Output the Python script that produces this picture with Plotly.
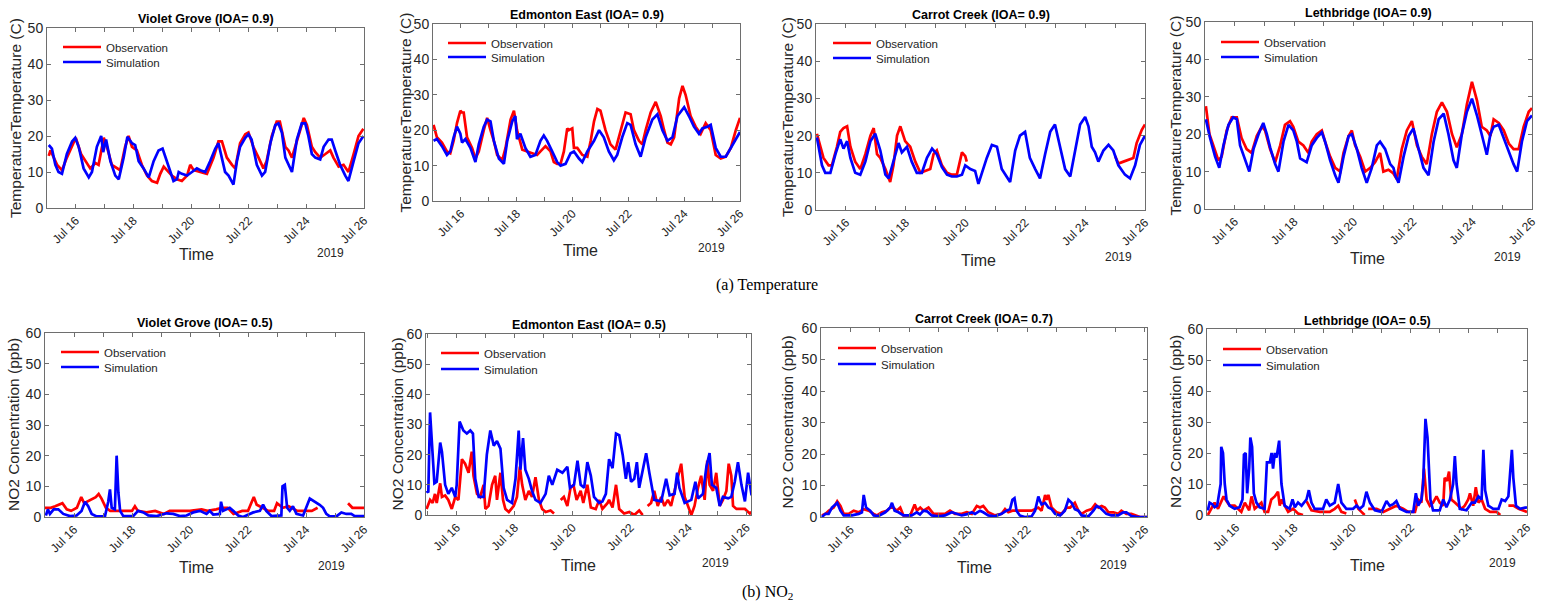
import pandas as pd
import plotly.graph_objects as go

W, H = 1549, 607
BASE = pd.Timestamp("2019-07-15")

# ---------------- DATA (days since 2019-07-15 00:00, values) ----------------
# Temperature (C)
VG_T_OBS_D = [0.06,0.12,0.35,0.52,0.69,0.87,1.0,1.18,1.35,1.5,1.68,1.79,1.97,2.08,2.25,2.43,2.54,2.71,2.83,2.95,3.12,3.29,3.47,3.64,3.82,3.93,4.05,4.16,4.33,4.51,4.68,4.86,4.97,5.09,5.32,5.55,5.78,5.95,6.07,6.24,6.42,6.53,6.7,6.88,6.99,7.16,7.34,7.51,7.62,7.8,7.97,8.08,8.27,8.38,8.5,8.61,8.79,8.91,9.02,9.19,9.31,9.48,9.66,9.83,9.94,10.12,10.29,10.46,10.64,10.81,10.98]
VG_T_OBS = [14.5,16,12,10.5,14,17,19.5,15,13,11,12.5,12,19.5,17,12,11,10.5,17,20,17,16,12,9,7.5,7,9.5,11.5,10.5,9,8,7.5,9,12,10.5,10,9.5,14,18.5,18.5,14,12,11,18,20.5,21,17,14,11,13,20,24,24,17,16,14,17,22,25,23,17,15.5,14,15,16,14,11.5,12,10,15,20,22]
VG_T_SIM_D = [0.06,0.17,0.29,0.4,0.52,0.69,0.87,0.98,1.1,1.27,1.45,1.56,1.73,1.88,1.95,2.05,2.2,2.37,2.49,2.66,2.79,2.95,3.06,3.18,3.35,3.53,3.7,3.87,4.01,4.16,4.28,4.39,4.51,4.57,4.68,4.86,5.03,5.2,5.32,5.49,5.66,5.84,5.95,6.07,6.18,6.3,6.47,6.59,6.7,6.88,6.99,7.1,7.28,7.46,7.57,7.75,7.92,8.03,8.15,8.27,8.38,8.5,8.67,8.84,8.96,9.07,9.19,9.31,9.48,9.6,9.77,9.88,10.0,10.17,10.35,10.46,10.64,10.81,10.98]
VG_T_SIM = [17.5,16.5,12,10,9.5,15,18.5,19.5,17,11,8.5,10,17,20,15.5,19,13,9,8,14,19.8,18,17.5,13,11,8.5,13,16,16.5,13,10,7.5,8,10,9.5,9,10,11,10.5,10,13,16.5,18,14,10,9,6.5,13,17,19.5,20.5,19,12,9,10,18,23,23.5,21,14,12,10,19,23.5,23.5,20,15,14,13.5,17,19,19,16,12,9,7.5,13,18,20]

EE_T_OBS_D = [0.02,0.14,0.32,0.5,0.62,0.74,0.86,0.98,1.04,1.1,1.22,1.4,1.52,1.64,1.82,1.94,2.06,2.18,2.3,2.48,2.6,2.78,2.9,3.01,3.2,3.37,3.55,3.73,3.85,4.03,4.21,4.33,4.45,4.57,4.69,4.81,4.87,4.99,5.05,5.17,5.35,5.53,5.65,5.77,5.89,6.0,6.18,6.36,6.54,6.72,6.9,7.08,7.2,7.38,7.5,7.62,7.8,7.98,8.16,8.28,8.4,8.52,8.64,8.82,8.94,9.05,9.23,9.41,9.59,9.77,9.95,10.13,10.31,10.49,10.67,10.85,11.0]
EE_T_OBS = [21.5,18,16.5,14,13.5,17,22,25.5,25,25,18,15,12,14,20,23.5,20,17,13,11.5,15,23,25.5,20,14.5,14,13.5,13,14,15.5,14,11,10.5,10.5,14,20.5,20,20.5,15,15,13,12.5,17,22.5,26,25.5,20,16,14.5,20,25,24.5,20,17,16,20,25,28,24,20,16.5,16,18,29,32.5,30,24,21,19,22,20,13,12,12.5,15,20,23.5]
EE_T_SIM_D = [0.02,0.14,0.32,0.5,0.62,0.74,0.86,0.98,1.04,1.16,1.34,1.52,1.64,1.82,1.94,2.06,2.18,2.36,2.54,2.66,2.84,2.95,3.01,3.13,3.31,3.49,3.67,3.85,3.97,4.09,4.27,4.45,4.57,4.75,4.93,5.05,5.23,5.35,5.53,5.77,5.95,6.12,6.3,6.48,6.6,6.78,6.96,7.08,7.26,7.44,7.62,7.86,8.04,8.22,8.4,8.58,8.76,9.0,9.17,9.35,9.53,9.65,9.83,9.95,10.13,10.31,10.49,10.67,10.85,11.0]
EE_T_SIM = [17,17.5,15.5,13,14,18,21,19,16.5,17.5,15,11,16,21,23,22.5,17,12,10.5,17,22.5,24,17.5,19,15,12.5,13,17,18.5,17,14,11,10,10.5,13.5,14,12,11,14,17,20,18,14,11.5,13,18,22,21.5,16,12.5,18,23,24.5,20,17,18,24,26.5,24,21,19,20.5,21,21.5,15,12.5,12.5,15,17.5,19.5]

CC_T_OBS_D = [0.03,0.14,0.25,0.42,0.53,0.7,0.81,0.92,1.04,1.15,1.31,1.48,1.65,1.82,1.93,2.04,2.15,2.32,2.48,2.59,2.71,2.82,2.98,3.15,3.32,3.49,3.65,3.82,3.93,4.04,4.21,4.38,4.54,4.71,4.88,4.99,5.04,5.5,10.0,10.11,10.28,10.45,10.61,10.72,10.89,11.0]
CC_T_OBS = [20.5,17,14,12,12,17,21,22,22.5,17,13,11,15,20,22,15,14,11,7.5,12,20,22.5,18.5,17,13,10,10.5,11,15,16,12,10,9.5,9.5,15.5,14.5,13,None,14.5,12.5,13,13.5,14,18,21.5,23]
CC_T_SIM_D = [0.03,0.2,0.31,0.48,0.65,0.81,0.92,1.04,1.15,1.31,1.48,1.65,1.82,1.98,2.15,2.32,2.43,2.59,2.76,2.87,3.04,3.2,3.37,3.54,3.71,3.88,4.04,4.21,4.38,4.54,4.71,4.88,4.99,5.16,5.32,5.43,5.54,5.71,5.88,6.05,6.21,6.38,6.49,6.66,6.82,6.99,7.15,7.33,7.49,7.66,7.83,7.99,8.16,8.33,8.5,8.66,8.83,9.0,9.11,9.22,9.33,9.44,9.61,9.78,9.94,10.11,10.33,10.5,10.67,10.83,11.0]
CC_T_SIM = [19.5,12,10,10,15,19,16.5,18.5,14,10,9.5,13,18.5,20.5,16,9.5,8.5,13,18,15.5,17,13,10,10,14,16.5,15,11.5,9.5,9,9,9.5,12,11,10.5,7,10,14,17.5,17,11,9,7.5,16,20,21,14,11,8.5,15,21,23,17,11,9,16,23,25,22.5,17,15.5,13,16,17.5,16,12,9.5,8.5,12,17.5,20]

LB_T_OBS_D = [0.03,0.15,0.28,0.45,0.56,0.73,0.9,1.07,1.23,1.4,1.57,1.74,1.91,2.02,2.19,2.36,2.53,2.69,2.86,2.97,3.14,3.31,3.48,3.59,3.76,3.93,4.04,4.21,4.38,4.55,4.66,4.83,4.94,5.05,5.22,5.39,5.56,5.72,5.89,6.0,6.17,6.34,6.45,6.62,6.79,6.96,7.13,7.29,7.46,7.63,7.8,7.97,8.14,8.31,8.47,8.64,8.81,8.98,9.15,9.31,9.48,9.6,9.71,9.88,10.05,10.22,10.38,10.55,10.72,10.89,11.0]
LB_T_OBS = [27.5,20,17,13,14,21,24.5,24.5,19,16,15,19.5,22,21,16,12.5,17,22.5,23.5,22,18,17,15,18,20,21,18,14,11,10,15,19.5,21,17,14,10,11,12.5,15,10,10.5,9.5,8,16,21,23.5,17,14,12,20,26,28.5,26,20,16.5,20,28,34,29,22,21,19.5,24,23,21,17.5,16,16,22,26,27]
LB_T_SIM_D = [0.03,0.17,0.34,0.48,0.62,0.79,0.95,1.07,1.18,1.35,1.49,1.63,1.8,1.96,2.08,2.19,2.36,2.47,2.64,2.81,2.97,3.09,3.2,3.42,3.59,3.76,3.93,4.04,4.21,4.38,4.49,4.66,4.83,4.94,5.11,5.27,5.44,5.61,5.78,5.89,6.06,6.23,6.34,6.4,6.51,6.68,6.85,7.01,7.18,7.35,7.52,7.69,7.86,8.03,8.19,8.36,8.47,8.64,8.81,8.98,9.15,9.31,9.48,9.6,9.71,9.88,10.05,10.22,10.38,10.5,10.66,10.83,11.0]
LB_T_SIM = [24,19,14,11,17,22.5,24.5,24,17,13,10,16,20,23,20,16.5,12,10,18,22.5,21,18,13.5,12.5,17,19,20.5,18,13,9,7,14,19.5,20,16,11,7,11,17,18,16,12,11,9,7,14,19.5,21.5,16,11,9,18,24,25.5,20,13,11,20,26,29.5,25,20,14.5,20,22,22.5,19,15,12,10,18,23.5,25]

# NO2 (ppb)
VG_N_OBS_D = [0.0,0.2,0.35,0.45,0.6,0.75,0.9,1.1,1.25,1.35,1.45,1.6,1.75,1.85,1.95,2.1,2.25,2.5,2.7,3.0,3.1,3.2,3.5,3.8,4.1,4.3,4.6,5.0,5.4,5.6,5.9,6.1,6.3,6.5,6.8,7.0,7.2,7.3,7.5,7.7,7.9,8.0,8.2,8.4,8.7,9.0,9.2,9.4,9.45,10.4,10.45,10.6,10.8,11.0]
VG_N_OBS = [3,3,3.5,4,4.5,2.5,2,3,6.5,4.5,5,6,6.5,7.5,6,3,2,2,2,2,3.5,2,1.5,2,1,2,2,2,2.5,2,2.5,3,3,1,2,2,6.5,4,3,2,2,4.5,3,3.5,2,2,2,3,None,None,4.5,3,3,3]
VG_N_SIM_D = [0.03,0.1,0.17,0.3,0.46,0.63,0.86,1.09,1.26,1.38,1.49,1.61,1.78,2.07,2.18,2.24,2.3,2.41,2.47,2.53,2.59,2.7,3.04,3.21,3.39,3.56,3.85,4.19,4.42,4.65,4.88,5.11,5.34,5.57,5.68,5.8,6.03,6.07,6.14,6.37,6.49,6.66,6.83,7.18,7.41,7.52,7.63,7.81,8.15,8.19,8.27,8.35,8.44,8.55,8.67,8.9,9.13,9.3,9.47,9.59,9.7,9.82,10.05,10.22,10.39,10.56,10.68,11.0]
VG_N_SIM = [0.5,2.5,1,2.5,2.5,1,0.3,0.5,2,5,3.5,1,0.2,0.3,5,9,3,2.5,20,8,2,0.3,0.3,2,1.5,0.5,0.3,1.2,1,0.3,0.5,1.5,2,1,2,0.8,1,5,2,3,2,0.5,0,1.5,2,4,2,0.3,0.5,10,10.5,3,2,3.5,1,0.5,6,5,4,3,1,0.2,0.2,1.5,1,1,0.3,0.3]

EE_N_OBS_D = [-0.04,0.08,0.17,0.25,0.31,0.43,0.49,0.6,0.71,0.83,0.95,1.06,1.18,1.29,1.41,1.52,1.58,1.7,1.81,1.93,1.99,2.1,2.22,2.33,2.39,2.51,2.6,2.68,2.8,2.97,3.08,3.18,3.26,3.37,3.49,3.6,3.72,3.84,3.95,4.07,4.24,4.36,4.45,4.59,4.7,4.82,4.93,5.03,5.14,5.28,5.37,5.51,5.63,5.8,5.92,6.03,6.21,6.26,6.38,6.5,6.61,6.78,6.96,7.13,7.3,7.42,7.5,7.59,7.71,7.82,7.94,8.06,8.17,8.29,8.4,8.52,8.63,8.75,8.87,8.98,9.1,9.21,9.33,9.44,9.56,9.65,9.73,9.85,9.96,10.08,10.19,10.31,10.39,10.48,10.54,10.66,10.95,11.12,11.18]
EE_N_OBS = [2,5,4,7,4,10.5,6,6.5,5,2,6,5,18.5,17,14,21,13,7,6,10,2,3,10,13,5,14,5,2,1,3,6,16,10,5,8,6,12.5,5,2,1,1.5,0.5,None,5,6,3,9,10,5,8,4,10,2.5,2,5,2,4,5,2.5,10,2,0.5,1,0,1.5,0,None,3,4,8,3,6,3,5,3,8,12,17,6,3,0,3,9,13,5,18,10,8,14,3,5,8,17,13,3,2,2,0.5,1]
EE_N_SIM_D = [-0.04,0.02,0.08,0.14,0.23,0.31,0.43,0.49,0.6,0.71,0.83,0.95,1.0,1.1,1.23,1.35,1.47,1.56,1.64,1.76,1.93,2.04,2.16,2.28,2.39,2.51,2.62,2.74,2.91,3.03,3.14,3.2,3.29,3.37,3.49,3.6,3.72,3.89,4.07,4.18,4.3,4.47,4.65,4.82,4.91,5.05,5.17,5.28,5.4,5.51,5.63,5.74,5.92,6.03,6.15,6.26,6.38,6.5,6.61,6.73,6.84,6.92,7.02,7.13,7.22,7.3,7.42,7.54,7.65,7.82,8.06,8.23,8.35,8.52,8.61,8.69,8.87,9.1,9.24,9.33,9.5,9.62,9.73,9.81,9.96,10.08,10.19,10.37,10.48,10.6,10.71,10.83,10.95,11.06,11.18]
EE_N_SIM = [8,7.5,34,25,10.5,11,24,21,10,7,9,6,10,31,28,27,28,27,12,6,6,20,28,23,24.5,22,9,5,4,12,28,15,25.5,15,12,8,5,4,7,13,10,15,14,16,9,10,18,10,9,17.5,13,6,4,4.5,7,18.5,15.5,27,26.5,20,12,17.5,11,12,17.5,9,15,20.5,14,5,4.5,12,6.5,7,14,9,4,5,11,5.5,7,16,20.5,10,9,3,6,5.5,6,11,17.5,10,4.5,14,6.5]

CC_N_OBS_D = [0.03,0.15,0.26,0.43,0.55,0.66,0.77,0.94,1.11,1.28,1.45,1.62,1.79,1.9,2.07,2.24,2.35,2.46,2.57,2.69,2.8,3.03,3.18,3.26,3.37,3.48,3.65,3.82,4.05,4.21,4.38,4.55,4.78,4.95,5.12,5.29,5.4,5.51,5.68,5.91,6.13,6.25,6.36,6.5,6.71,6.93,7.15,7.38,7.49,7.61,7.66,7.72,7.83,8.0,8.17,8.34,8.46,8.62,8.74,8.85,9.02,9.19,9.31,9.42,9.53,9.64,9.76,9.93,10.09,10.2,10.37,10.54,10.71,10.83,11.07]
CC_N_OBS = [0.5,1,2,3,5,3.5,1,1,2,1.5,2.5,2,1,0.5,1.5,2,3,3,2,3,0.5,0.5,4,2,3,2,3,1,1,1,2,1,1,1.5,1,3.5,3,3.5,1.5,0.5,1,2.5,1.5,2,2,2,2,3,2,7,5.5,7,3,1.5,1,3,3,4.5,2,1,2,2.5,4,3,3.5,3,1.5,1.5,1,2,1,1,0.5,0,0]
CC_N_SIM_D = [0.03,0.15,0.26,0.37,0.49,0.55,0.66,0.77,1.05,1.28,1.39,1.45,1.53,1.67,1.79,1.95,2.18,2.35,2.41,2.5,2.63,2.8,3.08,3.25,3.36,3.48,3.6,3.76,3.99,4.21,4.44,4.61,4.78,5.0,5.12,5.23,5.4,5.51,5.68,5.91,6.13,6.3,6.42,6.5,6.57,6.64,6.75,6.92,7.15,7.27,7.38,7.44,7.49,7.61,7.72,7.83,7.95,8.12,8.28,8.4,8.51,8.62,8.74,8.85,9.08,9.25,9.36,9.47,9.58,9.69,9.86,10.09,10.26,10.37,10.54,10.77,11.07]
CC_N_SIM = [0,1,1,3,4,4.5,2,0.5,0.5,1,1.5,7,3,2,0.5,0.3,1.5,3,4.5,2,1.5,0.5,0.5,1.5,0.8,2,1.8,0.5,0.2,0.5,1.5,1,0.5,1,1.5,1,2,1.5,0.5,0.2,1,2,2.5,5.5,6,2,0.5,0,0.2,2,6.5,5,4,4.5,3,2.5,1,0.5,2,5.5,4.5,2.5,2,0.5,0.2,2,3.5,3,2,1,0.5,0.5,1.5,1.5,0.3,0,0]

LB_N_OBS_D = [0.03,0.15,0.26,0.38,0.49,0.57,0.67,0.78,0.95,1.07,1.18,1.3,1.45,1.53,1.64,1.76,1.87,1.98,2.1,2.21,2.33,2.44,2.5,2.56,2.67,2.79,2.96,3.13,3.3,3.36,3.42,3.59,3.88,4.22,4.39,4.51,4.62,4.79,4.95,5.08,5.2,5.31,5.42,5.48,5.54,5.83,6.06,6.28,6.51,6.74,6.92,7.15,7.26,7.37,7.46,7.55,7.66,7.77,7.89,8.0,8.12,8.17,8.25,8.32,8.4,8.52,8.63,8.75,8.86,8.98,9.04,9.15,9.24,9.33,9.44,9.56,9.73,9.96,10.08,10.2,10.36,10.53,10.71,10.88,11.0]
LB_N_OBS = [0,2,4,2,4.5,6,4.5,3,3,2,1,4,1.5,6,2,3,4,1,1,5,6,7.5,3,5,3,1,2,0.5,0,None,4.5,1.5,1,1,2,3,1,0.5,None,5,2,1,0,None,2,2,1,2,3,2,1,1,5,4,15,5,3,4,6,4,3,12,11,14,5,4,3,2,3,5,7,3,9,4,5,2,1,1,0,None,3,3,2,1.5,1]
LB_N_SIM_D = [0.03,0.09,0.18,0.26,0.35,0.44,0.47,0.49,0.55,0.61,0.67,0.78,0.95,1.12,1.22,1.27,1.33,1.38,1.45,1.49,1.55,1.61,1.7,1.81,1.98,2.06,2.16,2.22,2.27,2.33,2.39,2.48,2.56,2.67,2.84,2.94,3.02,3.13,3.25,3.42,3.5,3.59,3.7,3.99,4.1,4.22,4.39,4.51,4.62,4.79,5.02,5.14,5.25,5.37,5.48,5.6,5.77,6.0,6.17,6.28,6.4,6.51,6.63,6.86,7.09,7.18,7.26,7.37,7.43,7.51,7.58,7.68,7.77,8.0,8.12,8.23,8.35,8.46,8.52,8.58,8.69,8.92,9.1,9.21,9.33,9.44,9.5,9.56,9.67,9.84,10.02,10.13,10.25,10.36,10.42,10.48,10.53,10.62,10.76,11.0]
LB_N_SIM = [1.5,4,3.5,2.5,3,9,10,22,20,10,5,3,2,2.5,5,19.5,20,7,15,25,22,7,4,2.5,2,17,17,20,15,20,18.5,24,10,3,2,5,2.5,4,3,5,8,4,2,2,5,3,4,10,4,2,2,3,2,3,7.5,4,1.5,1,4.5,3,3.5,4.5,2,1,1,7,3,5,10,31,25,5,1.5,1.5,5,2.5,5,10,19,10,2,1.5,4,4,6,5,21,8,3,2,2,5,4.5,6,14,21,12,3,2,2.5]

TITLES_T = ["Violet Grove (IOA= 0.9)", "Edmonton East (IOA= 0.9)", "Carrot Creek (IOA= 0.9)", "Lethbridge (IOA= 0.9)"]
TITLES_N = ["Violet Grove (IOA= 0.5)", "Edmonton East (IOA= 0.5)", "Carrot Creek (IOA= 0.7)", "Lethbridge (IOA= 0.5)"]
YLABEL_T = "TemperatureTemperature (C)"
YLABEL_N = "NO2 Concentration (ppb)"
SERIES_NAMES = ["Observation", "Simulation"]
TICK_DAYS = [1, 3, 5, 7, 9, 11]   # Jul 16 ... Jul 26
CAPTIONS = ["(a) Temperature", "(b) NO<sub>2</sub>"]

SERIES = [
    (VG_T_OBS_D, VG_T_OBS, VG_T_SIM_D, VG_T_SIM),
    (EE_T_OBS_D, EE_T_OBS, EE_T_SIM_D, EE_T_SIM),
    (CC_T_OBS_D, CC_T_OBS, CC_T_SIM_D, CC_T_SIM),
    (LB_T_OBS_D, LB_T_OBS, LB_T_SIM_D, LB_T_SIM),
    (VG_N_OBS_D, VG_N_OBS, VG_N_SIM_D, VG_N_SIM),
    (EE_N_OBS_D, EE_N_OBS, EE_N_SIM_D, EE_N_SIM),
    (CC_N_OBS_D, CC_N_OBS, CC_N_SIM_D, CC_N_SIM),
    (LB_N_OBS_D, LB_N_OBS, LB_N_SIM_D, LB_N_SIM),
]

# ---------------- LAYOUT (pixel boxes: left, right, top, bottom) ----------------
BOXES = [(47, 364, 28, 208), (433, 740, 24, 201), (816, 1145, 24, 210), (1205, 1532, 22, 209),
         (45, 364, 333, 517), (426, 751, 334, 515), (821, 1147, 328, 517), (1207, 1527, 329, 515)]
XRANGES = [(0, 11), (0, 11), (0, 11), (0, 11), (0, 11), (-0.06, 11.16), (0, 11.07), (0, 11)]
YLAB_X = [15, 405, 787, 1175, 13, 397, 787, 1175]
TIME_POS = [(196, 255), (580, 250), (978, 260), (1367, 258), (196, 567), (578, 565), (974, 567), (1367, 565)]
YEAR_POS = [(330, 253), (711, 248), (1118, 257), (1507, 257), (331, 566), (715, 563), (1113, 565), (1502, 563)]
TITLE_Y = [19, 15, 15, 13, 323, 325, 319, 321]
# legend line start x, observation y, simulation y
LEG_POS = [(63, 47, 62), (448, 43, 57), (833, 43, 58), (1221, 42, 57),
           (61, 352, 367), (441, 353, 369), (838, 348, 364), (1223, 349, 365)]

FONT = "Liberation Sans, Arial, sans-serif"
TXT = "#262626"
AX = "#6e6e6e"


def px_x(x):
    return x / W


def px_y(y):
    return 1 - y / H


def day(d):
    return BASE + pd.to_timedelta(d, unit="D")


fig = go.Figure()
annotations = []
layout = {}

for i in range(8):
    n = i + 1
    xa = "x" if n == 1 else f"x{n}"
    ya = "y" if n == 1 else f"y{n}"
    lg_o = "legend" if i == 0 else f"legend{2 * i + 1}"
    lg_s = f"legend{2 * i + 2}"
    od, ov, sd, sv = SERIES[i]
    fig.add_trace(go.Scatter(x=[day(d) for d in od], y=ov, mode="lines", name=SERIES_NAMES[0],
                             line=dict(color="#ff0000", width=2.7), xaxis=xa, yaxis=ya, legend=lg_o))
    fig.add_trace(go.Scatter(x=[day(d) for d in sd], y=sv, mode="lines", name=SERIES_NAMES[1],
                             line=dict(color="#0000ff", width=2.7), xaxis=xa, yaxis=ya, legend=lg_s))

    l, r, t, b = BOXES[i]
    top_row = i < 4
    ymax = 50 if top_row else 60
    xr = XRANGES[i]
    axkey_x = "xaxis" if n == 1 else f"xaxis{n}"
    axkey_y = "yaxis" if n == 1 else f"yaxis{n}"
    layout[axkey_x] = dict(
        domain=[px_x(l), px_x(r)], anchor=ya, type="date", automargin=False,
        range=[day(xr[0]), day(xr[1])],
        tickvals=[day(d) for d in TICK_DAYS], tickformat="%b %d", tickangle=-45,
        ticks="inside", ticklen=4, tickcolor=AX, showline=True, linecolor=AX, linewidth=1,
        mirror="ticks", showgrid=False, zeroline=False,
        tickfont=dict(family=FONT, size=12, color=TXT),
        minor=dict(ticks="inside", ticklen=4, tickcolor=AX, dtick=86400000, showgrid=False),
    )
    layout[axkey_y] = dict(
        domain=[px_y(b), px_y(t)], anchor=xa, range=[0, ymax], dtick=10, automargin=False,
        ticks="inside", ticklen=4, tickcolor=AX, showline=True, linecolor=AX, linewidth=1,
        mirror="ticks", showgrid=False, zeroline=False,
        tickfont=dict(family=FONT, size=14, color=TXT),
    )
    lx, ly_o, ly_s = LEG_POS[i]
    for key, ly in ((lg_o, ly_o), (lg_s, ly_s)):
        layout[key] = dict(x=px_x(lx - 5), y=px_y(ly), xanchor="left", yanchor="middle",
                           bgcolor="rgba(0,0,0,0)", borderwidth=0, itemwidth=38,
                           font=dict(family=FONT, size=11.5, color=TXT), tracegroupgap=0,
                           itemclick=False, itemdoubleclick=False)

    annotations.append(dict(text="<b>" + (TITLES_T[i] if top_row else TITLES_N[i - 4]) + "</b>",
                            x=px_x((l + r) / 2), y=px_y(TITLE_Y[i]), xref="paper", yref="paper",
                            showarrow=False, font=dict(family=FONT, size=12.5, color="#000"),
                            xanchor="center", yanchor="middle"))
    annotations.append(dict(text=YLABEL_T if top_row else YLABEL_N, textangle=-90,
                            x=px_x(YLAB_X[i]), y=px_y((t + b) / 2), xref="paper", yref="paper",
                            showarrow=False, font=dict(family=FONT, size=15.5, color=TXT),
                            xanchor="center", yanchor="middle"))
    tx, ty = TIME_POS[i]
    annotations.append(dict(text="Time", x=px_x(tx), y=px_y(ty), xref="paper", yref="paper",
                            showarrow=False, font=dict(family=FONT, size=16, color=TXT),
                            xanchor="center", yanchor="middle"))
    yx, yy = YEAR_POS[i]
    annotations.append(dict(text="2019", x=px_x(yx), y=px_y(yy), xref="paper", yref="paper",
                            showarrow=False, font=dict(family=FONT, size=12, color=TXT),
                            xanchor="center", yanchor="middle"))

annotations.append(dict(text=CAPTIONS[0], x=px_x(767), y=px_y(285), xref="paper", yref="paper",
                        showarrow=False, font=dict(family="Liberation Serif, Times New Roman, serif", size=16, color="#000"),
                        xanchor="center", yanchor="middle"))
annotations.append(dict(text=CAPTIONS[1], x=px_x(767), y=px_y(592), xref="paper", yref="paper",
                        showarrow=False, font=dict(family="Liberation Serif, Times New Roman, serif", size=16, color="#000"),
                        xanchor="center", yanchor="middle"))

fig.update_layout(width=W, height=H, margin=dict(l=0, r=0, t=0, b=0, autoexpand=False), paper_bgcolor="white",
                  plot_bgcolor="white", showlegend=True, annotations=annotations, **layout)

fig.write_html("out.html", config={"displayModeBar": False},
               post_script="document.body.style.margin='0px';document.body.style.overflow='hidden';")
